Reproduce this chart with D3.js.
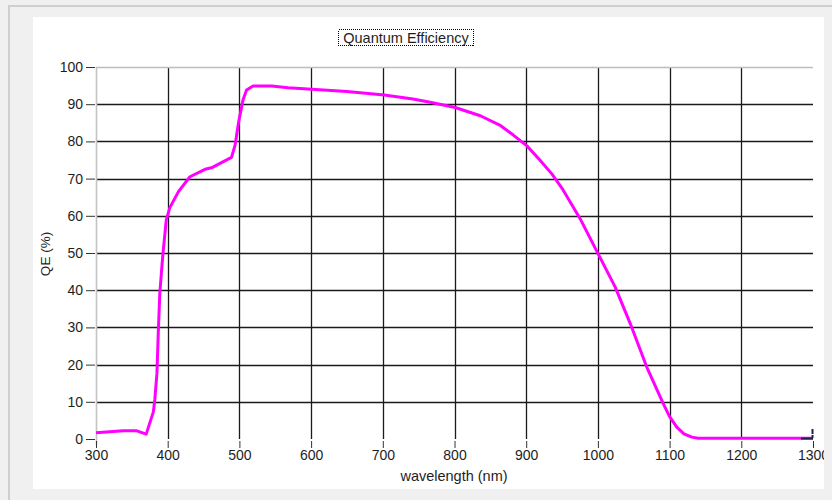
<!DOCTYPE html>
<html>
<head>
<meta charset="utf-8">
<script src="https://cdn.jsdelivr.net/npm/d3@7"></script>
<style>
  html, body { margin: 0; padding: 0; background: #f0f0f0; }
  svg { display: block; }
  text { font-family: "Liberation Sans", Arial, sans-serif; fill: #1e1e1e; }
</style>
</head>
<body>
<svg id="chart" width="832" height="500"></svg>
<script>
// ---- data ----
const wavelength = [300, 338, 357, 370, 380, 382, 385, 387, 389, 393, 398, 403, 415, 431, 452, 461, 475, 489, 494, 499, 505, 510, 519, 545, 568, 601, 650, 702, 742, 766, 801, 836, 863, 882, 901, 919, 936, 950, 975, 1000, 1024, 1045, 1068, 1091, 1100, 1110, 1120, 1131, 1140, 1200, 1300];
const qe = [1.7, 2.2, 2.2, 1.3, 7.3, 10.5, 17.7, 29.3, 39.2, 49.0, 58.9, 62.2, 66.5, 70.5, 72.5, 72.9, 74.3, 75.7, 79.0, 85.3, 91.1, 93.8, 94.9, 94.9, 94.4, 94.0, 93.4, 92.5, 91.4, 90.5, 89.1, 86.9, 84.4, 81.7, 78.8, 75.0, 71.2, 67.4, 59.3, 49.9, 40.9, 31.1, 19.4, 9.6, 6.0, 3.2, 1.4, 0.5, 0.2, 0.2, 0.2];
const xTicks = [300, 400, 500, 600, 700, 800, 900, 1000, 1100, 1200, 1300];
const yTicks = [0, 10, 20, 30, 40, 50, 60, 70, 80, 90, 100];
const titleText = "Quantum Efficiency";
const xLabel = "wavelength (nm)";
const yLabel = "QE (%)";

// ---- layout ----
const svg = d3.select("#chart");
const W = 832, H = 500;
const plot = { left: 96, right: 813, top: 67, bottom: 439 };

// window frame
svg.append("rect").attr("x", 0).attr("y", 0).attr("width", W).attr("height", H).attr("fill", "#f0f0f0");
svg.append("line").attr("x1", 8).attr("x2", W).attr("y1", 6).attr("y2", 6).attr("stroke", "#cfcfcf").attr("stroke-width", 2);
svg.append("line").attr("x1", 9).attr("x2", 9).attr("y1", 6).attr("y2", H).attr("stroke", "#cfcfcf").attr("stroke-width", 2);
// white panel
svg.append("rect").attr("x", 33).attr("y", 17).attr("width", 824 - 33).attr("height", 489 - 17).attr("fill", "#ffffff");

const x = d3.scaleLinear().domain([300, 1300]).range([plot.left, plot.right]);
const y = d3.scaleLinear().domain([0, 100]).range([plot.bottom, plot.top]);

svg.append("defs").append("clipPath").attr("id", "panelClip")
  .append("rect").attr("x", 33).attr("y", 17).attr("width", 824 - 33).attr("height", 489 - 17);

const g = svg.append("g").attr("clip-path", "url(#panelClip)");

// grid
const grid = g.append("g");
grid.selectAll("line.v").data(xTicks.filter(d => d > 300 && d < 1300)).join("line")
  .attr("x1", d => Math.round(x(d)) + 0.5).attr("x2", d => Math.round(x(d)) + 0.5)
  .attr("y1", plot.top).attr("y2", plot.bottom)
  .attr("stroke", "#1a1a1a").attr("stroke-width", 1.3);
grid.selectAll("line.h").data(yTicks.filter(d => d > 0 && d < 100)).join("line")
  .attr("x1", plot.left).attr("x2", plot.right)
  .attr("y1", d => Math.round(y(d)) + 0.5).attr("y2", d => Math.round(y(d)) + 0.5)
  .attr("stroke", "#1a1a1a").attr("stroke-width", 1.3);
// top border and left axis (light gray)
grid.append("line").attr("x1", plot.left).attr("x2", plot.right)
  .attr("y1", Math.round(y(100)) + 0.5).attr("y2", Math.round(y(100)) + 0.5)
  .attr("stroke", "#bdbdbd").attr("stroke-width", 1.3);
grid.append("line").attr("x1", plot.left + 0.5).attr("x2", plot.left + 0.5)
  .attr("y1", plot.top).attr("y2", plot.bottom + 6)
  .attr("stroke", "#c4c4c4").attr("stroke-width", 1.6);

// y axis
const yAxis = d3.axisLeft(y).tickValues(yTicks).tickSize(9).tickPadding(3).tickFormat(d3.format("d"));
const yG = g.append("g").attr("transform", `translate(${plot.left - 1},0)`).call(yAxis);
yG.select(".domain").remove();
yG.selectAll(".tick line").attr("stroke", "#333");
yG.selectAll(".tick text").attr("font-size", 14).attr("font-family", "Liberation Sans, Arial, sans-serif").attr("fill", "#1e1e1e");

// x axis
const xAxis = d3.axisBottom(x).tickValues(xTicks).tickSize(7).tickPadding(2).tickFormat(d3.format("d"));
const xG = g.append("g").attr("transform", `translate(0,${plot.bottom + 2})`).call(xAxis);
xG.select(".domain").remove();
xG.selectAll(".tick line").attr("stroke", "#333");
xG.selectAll(".tick text").attr("font-size", 14).attr("font-family", "Liberation Sans, Arial, sans-serif").attr("fill", "#1e1e1e");

// curve
const pts = wavelength.map((w, i) => [w, qe[i]]);
const line = d3.line().x(d => x(d[0])).y(d => y(d[1]));
g.append("path").datum(pts).attr("d", line)
  .attr("fill", "none").attr("stroke", "#ff00ff").attr("stroke-width", 3)
  .attr("stroke-linejoin", "round").attr("stroke-linecap", "butt");

// end cursor marker at (1300, 0)
const endW = wavelength[wavelength.length - 1];
g.append("line").attr("x1", x(endW) - 12).attr("x2", x(endW)).attr("y1", y(0) - 0.5).attr("y2", y(0) - 0.5)
  .attr("stroke", "#20204a").attr("stroke-width", 2);
g.append("line").attr("x1", x(endW) - 0.5).attr("x2", x(endW) - 0.5).attr("y1", y(0) - 10).attr("y2", y(0) - 1)
  .attr("stroke", "#20204a").attr("stroke-width", 2).attr("stroke-dasharray", "5,1,3");

// title with dotted box
svg.append("text").attr("x", 406).attr("y", 42.5).attr("text-anchor", "middle")
  .attr("font-size", 14.5).text(titleText);
svg.append("rect").attr("x", 338.5).attr("y", 29.5).attr("width", 135).attr("height", 16)
  .attr("fill", "none").attr("stroke", "#000").attr("stroke-width", 1)
  .attr("stroke-dasharray", "1,1").attr("shape-rendering", "crispEdges");

// axis labels
svg.append("text").attr("x", 454).attr("y", 481).attr("text-anchor", "middle")
  .attr("font-size", 14.5).text(xLabel);
svg.append("text").attr("transform", `translate(50,254) rotate(-90)`).attr("text-anchor", "middle")
  .attr("font-size", 13.5).text(yLabel);
</script>
</body>
</html>
